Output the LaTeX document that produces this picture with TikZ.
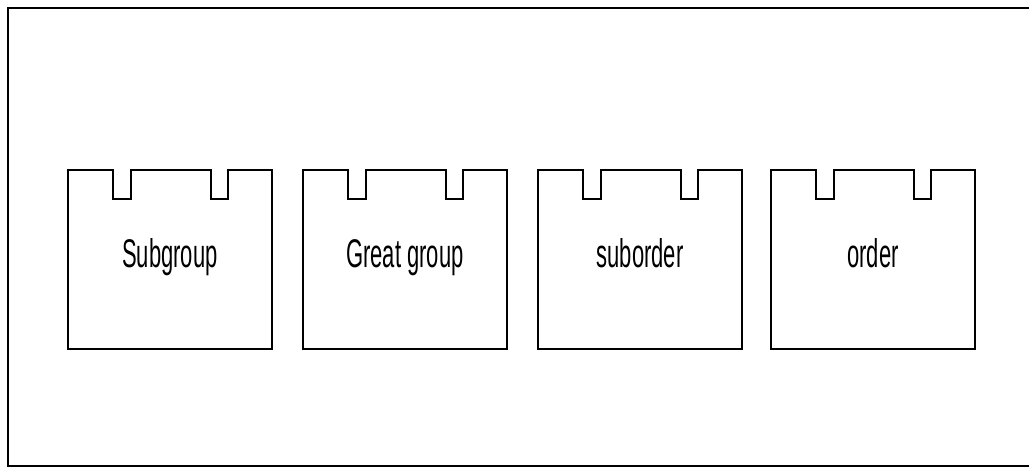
\documentclass[tikz,border=0pt]{standalone}
\usepackage{fontspec}
\setmainfont{Liberation Sans}
\usepackage{graphicx}
\usetikzlibrary{positioning,calc}

\begin{document}
\begin{tikzpicture}[x=1pt,y=-1pt,
 frame/.style={line width=1.6pt,draw=black},
 card/.style={line width=1.1pt,draw=black},
 lbl/.style={anchor=base,inner sep=0pt,font=\fontsize{40}{44}\selectfont}]
\useasboundingbox (0,0) rectangle (1029,467);
% outer frame (right side runs off the picture)
\coordinate (ftr) at (1029,8);
\coordinate (ftl) at (8,8);
\coordinate (fbl) at (8,466);
\coordinate (fbr) at (1029,466);
\draw[frame] (ftr) -- (ftl) -- (fbl) -- (fbr);
% notched cards
\foreach \x/\name/\txt in {68/sub/Subgroup,303/great/Great group,538/subord/suborder,771/ord/order} {
  \coordinate (\name) at (\x,170);
  \draw[card] (\name) -- ++(45,0) -- ++(0,29) -- ++(18,0) -- ++(0,-29)
    -- ++(80,0) -- ++(0,29) -- ++(17,0) -- ++(0,-29) -- ++(44,0)
    -- ++(0,179) -- ++(-204,0) -- cycle;
  \node[lbl] (\name-txt) at ($(\name)+(102,97)$) {\scalebox{0.55}[1]{\txt}};
}
\end{tikzpicture}
\end{document}
